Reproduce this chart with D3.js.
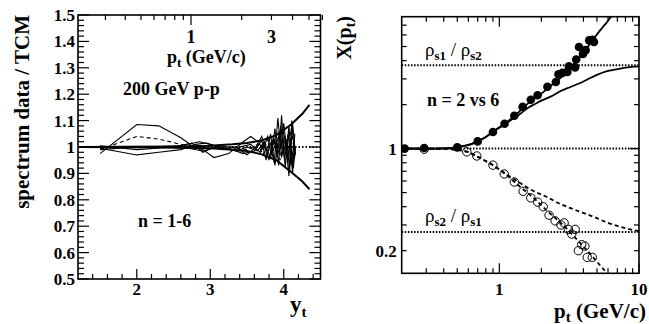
<!DOCTYPE html>
<html><head><meta charset="utf-8">
<script src="https://cdn.jsdelivr.net/npm/d3@7"></script>
<style>
body{margin:0;background:#fff}
text{font-family:"Liberation Serif","Times New Roman",serif;font-weight:bold;fill:#000}
</style></head>
<body><svg id="c" width="649" height="324"></svg>
<script>
// ---------------- LEFT PANEL DATA ----------------
const ytDomain = [1.2, 4.5];
const ratioDomain = [0.5, 1.5];
const ratioTickLabels = ["0.5","0.6","0.7","0.8","0.9","1","1.1","1.2","1.3","1.4","1.5"];
const ratioTickValues = [0.5,0.6,0.7,0.8,0.9,1.0,1.1,1.2,1.3,1.4,1.5];
const ytTickValues = [2,3,4];
const ptTopTicks = [0.3,0.4,0.5,0.6,0.7,0.8,0.9,1,2,3,4,5,6];
const ptTopLabels = [1,3];
const massTop = 0.13;

const envUpper = [[1.2,1.0],[2.5,1.002],[3.0,1.005],[3.3,1.01],[3.5,1.015],[3.7,1.025],[3.9,1.045],[4.1,1.085],[4.25,1.125],[4.35,1.16]];
const envLower = [[1.2,1.0],[2.5,0.998],[3.0,0.995],[3.3,0.99],[3.5,0.985],[3.7,0.972],[3.9,0.95],[4.1,0.905],[4.25,0.87],[4.35,0.84]];

const s1 = [[1.5,0.975],[2.0,1.085],[2.3,1.08],[2.6,1.035],[2.75,1.005],[2.9,0.99],[3.05,0.96],[3.25,0.975],[3.45,1.02],[3.55,1.04],[3.65,1.02],[3.72,0.99],[3.78,1.04],[3.83,0.97],[3.88,1.07],[3.93,0.93],[3.97,1.12],[4.02,0.92],[4.07,1.08],[4.12,0.9],[4.15,1.05]];
const s2 = [[1.5,0.99],[2.0,1.04],[2.3,1.03],[2.6,1.01],[2.8,0.995],[3.0,1.005],[3.25,1.0],[3.5,0.99],[3.65,1.01],[3.72,0.97],[3.78,1.03],[3.84,0.96],[3.9,1.05],[3.95,0.95],[4.0,1.06],[4.05,0.94],[4.1,1.07],[4.15,0.97]];
const s3 = [[1.5,0.995],[2.0,0.97],[2.3,0.98],[2.6,0.99],[2.8,1.01],[2.95,1.015],[3.1,1.0],[3.3,0.99],[3.45,0.975],[3.6,0.985],[3.7,1.025],[3.76,0.95],[3.82,1.05],[3.87,0.94],[3.92,1.11],[3.97,0.96],[4.02,1.04],[4.07,0.89],[4.11,1.1],[4.15,0.96]];
const s4 = [[1.5,1.005],[2.0,0.99],[2.5,1.0],[2.75,1.015],[2.9,0.98],[3.05,1.0],[3.35,1.0],[3.5,0.97],[3.62,1.0],[3.7,1.04],[3.77,0.97],[3.83,1.02],[3.88,0.93],[3.94,1.06],[3.99,0.97],[4.04,1.03],[4.08,0.91],[4.12,1.09],[4.16,0.97]];
const s5 = [[1.5,1.0],[2.2,1.0],[2.6,1.005],[2.85,1.02],[3.0,1.01],[3.2,0.995],[3.4,1.0],[3.55,1.01],[3.68,0.98],[3.74,1.02],[3.8,0.95],[3.86,1.04],[3.91,0.96],[3.96,1.08],[4.01,0.95],[4.06,1.05],[4.1,0.93],[4.14,1.02]];
const s6 = [[1.5,0.99],[2.0,1.0],[2.7,0.995],[2.9,0.985],[3.1,1.0],[3.35,0.985],[3.5,1.0],[3.64,0.985],[3.71,1.01],[3.77,0.99],[3.82,0.96],[3.87,1.03],[3.92,0.98],[3.96,1.0],[4.0,1.09],[4.05,0.96],[4.09,1.02],[4.13,0.92],[4.16,1.0]];

// ---------------- RIGHT PANEL DATA ----------------
const ptDomain = [0.2, 10];
const xDomain = [0.14, 8];
const ptMinorTicks = [0.3,0.4,0.5,0.6,0.7,0.8,0.9,2,3,4,5,6,7,8,9];
const ptMajorTicks = [1,10];
const xMinorTicks = [0.2,0.3,0.4,0.5,0.6,0.7,0.8,0.9,2,3,4,5,6,7];
const xLabels = [[1,"1"],[0.2,"0.2"]];
const ratioLevels = [1, 3.72, 0.269];

const modelN2up = [[0.2,1.0],[0.3,1.0],[0.4,1.003],[0.5,1.02],[0.6,1.055],[0.7,1.12],[0.8,1.2],[0.9,1.3],[1.0,1.4],[1.1,1.49],[1.3,1.69],[1.6,2.03],[2.0,2.38],[2.4,2.75],[2.8,3.1],[3.2,3.55],[3.7,4.14],[4.2,4.8],[4.6,5.45],[5.2,6.35],[5.8,7.2],[6.3,8.0],[6.5,8.3]];
const modelN6up = [[0.2,1.0],[0.3,1.0],[0.4,1.005],[0.5,1.025],[0.6,1.06],[0.7,1.12],[0.8,1.2],[0.9,1.3],[1.0,1.39],[1.1,1.47],[1.2,1.56],[1.4,1.72],[1.6,1.9],[1.8,2.02],[2.0,2.13],[2.4,2.3],[2.8,2.5],[3.2,2.63],[4.0,2.88],[5.0,3.2],[6.0,3.4],[7.0,3.5],[8.0,3.58],[10,3.65]];
const modelN6dn = [[0.2,1.0],[0.4,0.995],[0.5,0.98],[0.6,0.945],[0.7,0.88],[0.8,0.82],[0.9,0.77],[1.1,0.677],[1.4,0.584],[1.7,0.52],[2.15,0.47],[2.7,0.42],[3.5,0.38],[4.6,0.345],[6.0,0.31],[8.0,0.285],[10,0.272]];
const modelN2dn = [[0.2,1.0],[0.4,0.998],[0.5,0.98],[0.6,0.945],[0.7,0.88],[0.9,0.77],[1.1,0.67],[1.4,0.55],[1.8,0.45],[2.2,0.375],[2.8,0.305],[3.5,0.245],[4.2,0.203],[5.0,0.168],[5.9,0.14]];

const filledPts = [[0.21,1.0],[0.29,1.01],[0.5,1.02],[0.7,1.12],[0.9,1.3],[1.09,1.48],[1.28,1.68],[1.47,1.93],[1.68,2.16],[1.88,2.32],[2.21,2.65],[2.54,2.86],[2.65,3.23],[2.83,3.3],[3.07,3.35],[3.15,3.66],[3.49,3.6],[3.55,4.07],[3.72,4.96],[3.97,4.45],[4.15,4.72],[4.4,5.51],[4.63,5.55],[4.76,5.37]];
const openPts = [[0.29,0.99],[0.585,0.95],[0.69,0.89],[0.9,0.77],[1.085,0.67],[1.28,0.59],[1.48,0.51],[1.68,0.46],[1.88,0.43],[2.06,0.40],[2.27,0.35],[2.51,0.32],[2.76,0.30],[2.91,0.31],[3.12,0.28],[3.30,0.26],[3.49,0.28],[3.68,0.20],[3.89,0.22],[4.10,0.215],[4.26,0.18],[4.63,0.18]];

// ---------------- DRAW ----------------
const svg = d3.select("#c");
const L = {x0:78, x1:320.5, y0:15, y1:279};
const R = {x0:401.7, x1:639, y0:16.7, y1:273.3};

function tickLines(g, vals, fx, y, len){
  g.selectAll(null).data(vals).enter().append("line")
   .attr("x1",d=>fx(d)).attr("x2",d=>fx(d)).attr("y1",y).attr("y2",y+len)
   .attr("stroke","#000").attr("stroke-width",1.2);
}
function tickLinesH(g, vals, fy, x, len){
  g.selectAll(null).data(vals).enter().append("line")
   .attr("y1",d=>fy(d)).attr("y2",d=>fy(d)).attr("x1",x).attr("x2",x+len)
   .attr("stroke","#000").attr("stroke-width",1.2);
}

// ===== left =====
const xL = d3.scaleLinear().domain(ytDomain).range([L.x0, L.x1]);
const yL = d3.scaleLinear().domain(ratioDomain).range([L.y1, L.y0]);
const gL = svg.append("g");
svg.append("clipPath").attr("id","clipL").append("rect")
  .attr("x",L.x0).attr("y",L.y0).attr("width",L.x1-L.x0).attr("height",L.y1-L.y0);

const yMinor = d3.range(25,76).map(i=>i/50).filter(v=>Math.abs(v*10-Math.round(v*10))>1e-6);
tickLinesH(gL, ratioTickValues, yL, L.x0, 11);
tickLinesH(gL, yMinor, yL, L.x0, 6);
tickLinesH(gL, ratioTickValues, yL, L.x1, -11);
tickLinesH(gL, yMinor, yL, L.x1, -6);
const ytMinor = d3.range(7,23).map(i=>i/5).filter(v=>v>ytDomain[0] && v<ytDomain[1] && Math.abs(v-Math.round(v))>1e-6);
tickLines(gL, ytTickValues, xL, L.y1, -10);
tickLines(gL, ytMinor, xL, L.y1, -5);
const ptToYt = p => Math.log((p + Math.sqrt(p*p + massTop*massTop))/massTop);
tickLines(gL, ptTopTicks.filter(p=>p!==1), p=>xL(ptToYt(p)), L.y0, 5);
tickLines(gL, [1], p=>xL(ptToYt(p)), L.y0, 10);

gL.selectAll(null).data(ratioTickValues).enter().append("text")
  .attr("x",L.x0-3).attr("y",d=>yL(d)+6).attr("text-anchor","end")
  .attr("font-size",17).text((d,i)=>ratioTickLabels[i]);
gL.selectAll(null).data(ytTickValues).enter().append("text")
  .attr("x",d=>xL(d)).attr("y",L.y1+16).attr("text-anchor","middle")
  .attr("font-size",17).text(d=>d);
gL.selectAll(null).data(ptTopLabels).enter().append("text")
  .attr("x",d=>xL(ptToYt(d))).attr("y",43).attr("text-anchor","middle")
  .attr("font-size",18).text(d=>d);

const lineL = d3.line().x(d=>xL(d[0])).y(d=>yL(d[1]));
const cg = gL.append("g").attr("clip-path","url(#clipL)");
cg.append("line").attr("x1",L.x0).attr("x2",L.x1).attr("y1",yL(1)).attr("y2",yL(1))
  .attr("stroke","#000").attr("stroke-width",1.8).attr("stroke-dasharray","1.5,2");
[envUpper, envLower].forEach(d=>cg.append("path").attr("d",lineL(d)).attr("fill","none").attr("stroke","#000").attr("stroke-width",2));
const series = [[s1,""],[s2,"4,3"],[s3,""],[s4,""],[s5,""],[s6,""]];
series.forEach(([d,dash])=>cg.append("path").attr("d",lineL(d)).attr("fill","none")
  .attr("stroke","#000").attr("stroke-width",1.1).attr("stroke-dasharray",dash));

gL.append("rect").attr("x",L.x0).attr("y",L.y0).attr("width",L.x1-L.x0).attr("height",L.y1-L.y0)
  .attr("fill","none").attr("stroke","#000").attr("stroke-width",1.6);

const tp = gL.append("text").attr("x",167).attr("y",63).attr("font-size",18);
tp.append("tspan").text("p");
tp.append("tspan").attr("font-size",13).attr("dy",4).text("t");
tp.append("tspan").attr("dy",-4).text(" (GeV/c)");
gL.append("text").attr("x",123).attr("y",95).attr("font-size",18).text("200 GeV p-p");
gL.append("text").attr("x",138).attr("y",227).attr("font-size",18).text("n = 1-6");
gL.append("text").attr("transform","translate(29,15) rotate(-90)").attr("text-anchor","end")
  .attr("font-size",21).text("spectrum data / TCM");
const yt = gL.append("text").attr("x",290).attr("y",312).attr("font-size",23);
yt.append("tspan").text("y");
yt.append("tspan").attr("font-size",15).attr("dy",5).text("t");

// ===== right =====
const xR = d3.scaleLog().domain(ptDomain).range([R.x0, R.x1]);
const yR = d3.scaleLog().domain(xDomain).range([R.y1, R.y0]);
const gR = svg.append("g");
svg.append("clipPath").attr("id","clipR").append("rect")
  .attr("x",R.x0).attr("y",R.y0).attr("width",R.x1-R.x0).attr("height",R.y1-R.y0);

tickLines(gR, ptMinorTicks, xR, R.y1, -5);
tickLines(gR, ptMajorTicks, xR, R.y1, -10);
tickLines(gR, ptMinorTicks, xR, R.y0, 5);
tickLines(gR, ptMajorTicks, xR, R.y0, 10);
tickLinesH(gR, xMinorTicks, yR, R.x0, 5);
tickLinesH(gR, [1], yR, R.x0, 9);
tickLinesH(gR, xMinorTicks, yR, R.x1, -5);
tickLinesH(gR, [1], yR, R.x1, -9);

gR.selectAll(null).data(ptMajorTicks).enter().append("text")
  .attr("x",d=>xR(d)).attr("y",R.y1+22).attr("text-anchor","middle")
  .attr("font-size",17).text(d=>d);
gR.selectAll(null).data(xLabels).enter().append("text")
  .attr("x",R.x0-5).attr("y",d=>yR(d[0])+6).attr("text-anchor","end")
  .attr("font-size",17).text(d=>d[1]);

const cr = gR.append("g").attr("clip-path","url(#clipR)");
ratioLevels.forEach(v=>cr.append("line").attr("x1",R.x0).attr("x2",R.x1).attr("y1",yR(v)).attr("y2",yR(v))
  .attr("stroke","#000").attr("stroke-width",2).attr("stroke-dasharray","1.5,1.6"));
const lineR = d3.line().curve(d3.curveMonotoneX).x(d=>xR(d[0])).y(d=>yR(d[1]));
[[modelN2up,""],[modelN6up,""],[modelN6dn,"4,3"],[modelN2dn,"4,3"]].forEach(([d,dash])=>
  cr.append("path").attr("d",lineR(d)).attr("fill","none").attr("stroke","#000")
   .attr("stroke-width",1.8).attr("stroke-dasharray",dash));
cr.selectAll(null).data(filledPts).enter().append("circle")
  .attr("cx",d=>xR(d[0])).attr("cy",d=>yR(d[1])).attr("r",4.3).attr("fill","#000");
cr.selectAll(null).data(openPts).enter().append("circle")
  .attr("cx",d=>xR(d[0])).attr("cy",d=>yR(d[1])).attr("r",4.2).attr("fill","none")
  .attr("stroke","#000").attr("stroke-width",1);

gR.append("rect").attr("x",R.x0).attr("y",R.y0).attr("width",R.x1-R.x0).attr("height",R.y1-R.y0)
  .attr("fill","none").attr("stroke","#000").attr("stroke-width",1.6);

function rhoLabel(x,y,a,b){
  const t = gR.append("text").attr("x",x).attr("y",y).attr("font-size",19);
  t.append("tspan").attr("font-weight","normal").text("ρ");
  t.append("tspan").attr("font-size",13).attr("dy",4).text(a);
  t.append("tspan").attr("font-weight","normal").attr("dy",-4).text(" / ρ");
  t.append("tspan").attr("font-size",13).attr("dy",4).text(b);
}
rhoLabel(425,56,"s1","s2");
rhoLabel(425,222,"s2","s1");
gR.append("text").attr("x",427).attr("y",106).attr("font-size",18).text("n = 2 vs 6");
const xl = gR.append("text").attr("transform","translate(351,16) rotate(-90)").attr("text-anchor","end").attr("font-size",20);
xl.append("tspan").text("X(p");
xl.append("tspan").attr("font-size",14).attr("dy",4).text("t");
xl.append("tspan").attr("dy",-4).text(")");
const pl = gR.append("text").attr("x",646).attr("y",318).attr("text-anchor","end").attr("font-size",21);
pl.append("tspan").text("p");
pl.append("tspan").attr("font-size",15).attr("dy",4).text("t");
pl.append("tspan").attr("dy",-4).text(" (GeV/c)");
</script></body></html>
